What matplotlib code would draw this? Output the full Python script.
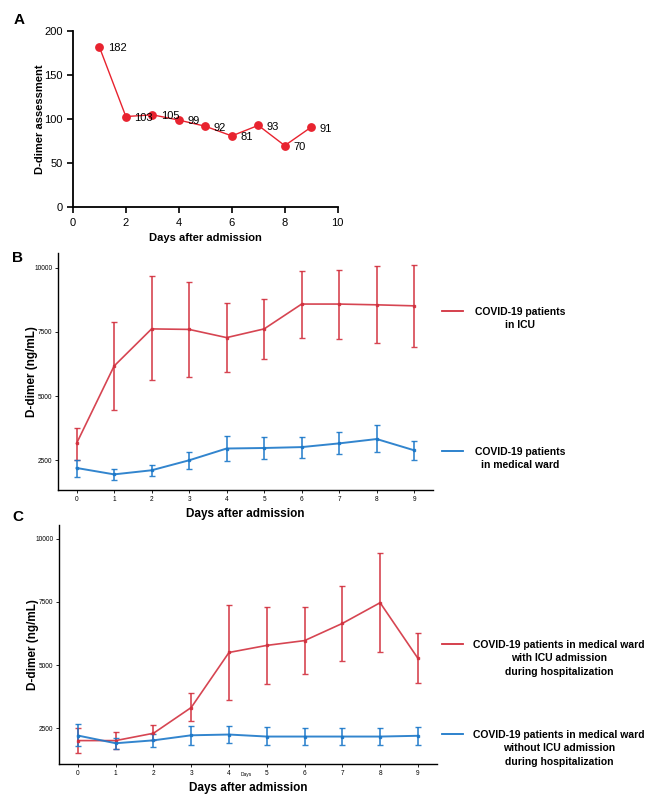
import numpy as np
import matplotlib
matplotlib.use("Agg")
import matplotlib.pyplot as plt

plt.rcParams['font.family'] = ['Liberation Sans', 'DejaVu Sans']

# panel A
days_a = [1, 2, 3, 4, 5, 6, 7, 8, 9]
score_a = [182, 103, 105, 99, 92, 81, 93, 70, 91]

# panel B
days = [0, 1, 2, 3, 4, 5, 6, 7, 8, 9]
icu_b = [3150, 6170, 7620, 7600, 7280, 7620, 8590, 8590, 8560, 8520]
icu_b_lo = [2500, 4440, 5610, 5750, 5930, 6460, 7270, 7210, 7060, 6920]
icu_b_hi = [3760, 7900, 9680, 9470, 8640, 8780, 9890, 9920, 10060, 10120]
ward_b = [2190, 1940, 2100, 2490, 2950, 2970, 3005, 3150, 3320, 2880]
ward_b_lo = [1840, 1720, 1880, 2160, 2470, 2530, 2580, 2720, 2810, 2510]
ward_b_hi = [2500, 2140, 2290, 2800, 3450, 3410, 3410, 3580, 3860, 3240]

# panel C
icu_c = [2010, 2010, 2300, 3320, 5500, 5780, 5970, 6650, 7470, 5270]
icu_c_lo = [1510, 1670, 2020, 2770, 3620, 4260, 4630, 5170, 5520, 4290]
icu_c_hi = [2500, 2340, 2610, 3880, 7380, 7320, 7290, 8120, 9450, 6260]
ward_c = [2210, 1905, 2020, 2220, 2250, 2170, 2170, 2170, 2170, 2200]
ward_c_lo = [1790, 1670, 1750, 1850, 1920, 1830, 1830, 1830, 1830, 1850]
ward_c_hi = [2660, 2130, 2260, 2590, 2590, 2540, 2510, 2510, 2510, 2540]

leg_b = ["COVID-19 patients\nin ICU", "COVID-19 patients\nin medical ward"]
leg_c = ["COVID-19 patients in medical ward\nwith ICU admission\nduring hospitalization",
         "COVID-19 patients in medical ward\nwithout ICU admission\nduring hospitalization"]

red_a = "#e8232f"
red = "#d2313f"
blue = "#1c78c9"

W, H = 657, 800
fig = plt.figure(figsize=(6.57, 8), dpi=100)

# ---- A ----
ax = fig.add_axes([0.111, 0.741, 0.403, 0.22])
ax.plot(days_a, score_a, color=red_a, lw=1.0, marker='o', ms=5.3, zorder=3)
for d, v in zip(days_a, score_a):
    ax.annotate(str(v), (d, v), xytext=(6, -1), textcoords='offset points',
                fontsize=8, va='center', ha='left')
ax.set_xlim(0, 10)
ax.set_ylim(0, 200)
ax.set_xticks([0, 2, 4, 6, 8, 10])
ax.set_yticks([0, 50, 100, 150, 200])
ax.spines['top'].set_visible(False)
ax.spines['right'].set_visible(False)
for s in ['left', 'bottom']:
    ax.spines[s].set_linewidth(1.3)
ax.tick_params(labelsize=8, width=1.2, length=4)
ax.set_xlabel("Days after admission", fontsize=8, fontweight='bold')
ax.set_ylabel("D-dimer assessment", fontsize=8, fontweight='bold', labelpad=-1)
fig.text(14 / W, 1 - 20 / H, "A", fontsize=11, fontweight='bold', va='center')


def panel(rect, r, r_lo, r_hi, b, b_lo, b_hi, ylim, letter, letter_y):
    ax = fig.add_axes(rect)
    r = np.array(r); b = np.array(b)
    err_r = [r - np.array(r_lo), np.array(r_hi) - r]
    err_b = [b - np.array(b_lo), np.array(b_hi) - b]
    ax.errorbar(days, r, yerr=err_r, color=red, lw=1.2, elinewidth=1.2,
                capsize=2, capthick=1.0, marker='s', ms=2, ecolor=red, alpha=0.9)
    ax.errorbar(days, b, yerr=err_b, color=blue, lw=1.4, elinewidth=1.2,
                capsize=2, capthick=1.0, marker='s', ms=2, ecolor=blue, alpha=0.9)
    ax.set_xlim(-0.5, 9.5)
    ax.set_ylim(*ylim)
    ax.set_xticks(days)
    ax.set_yticks([2500, 5000, 7500, 10000])
    ax.spines['top'].set_visible(False)
    ax.spines['right'].set_visible(False)
    for s in ['left', 'bottom']:
        ax.spines[s].set_linewidth(1.0)
    ax.tick_params(labelsize=4.7, width=0.6, length=2, pad=2)
    ax.set_ylabel("D-dimer (ng/mL)", fontsize=8.5, fontweight='bold', labelpad=-3)
    ax.set_xlabel("Days after admission", fontsize=8.5, fontweight='bold', labelpad=4)
    fig.text(12 / W, 1 - letter_y / H, letter, fontsize=11, fontweight='bold', va='center')
    return ax


panel([0.088, 0.3875, 0.571, 0.2963], icu_b, icu_b_lo, icu_b_hi,
      ward_b, ward_b_lo, ward_b_hi, (1330, 10585), "B", 258)
axc = panel([0.0898, 0.045, 0.575, 0.299], icu_c, icu_c_lo, icu_c_hi,
            ward_c, ward_c_lo, ward_c_hi, (1083, 10556), "C", 517)
axc.text(0.5 - 0.005, -0.045, "Days", transform=axc.transAxes, fontsize=3.5,
         ha='center', va='center')


def legend_entry(y_px, color, text, xc_px):
    y = 1 - y_px / H
    fig.add_artist(plt.Line2D([442 / W, 463 / W], [y, y], color=color, lw=1.3))
    fig.text(xc_px / W, y + 0.0055, text, fontsize=7.5, fontweight='bold',
             ha='center', va='top', linespacing=1.45)


legend_entry(311, red, leg_b[0], 520)
legend_entry(451, blue, leg_b[1], 520)
legend_entry(644, red, leg_c[0], 559)
legend_entry(734, blue, leg_c[1], 559)

fig.savefig("out.png", dpi=100)
